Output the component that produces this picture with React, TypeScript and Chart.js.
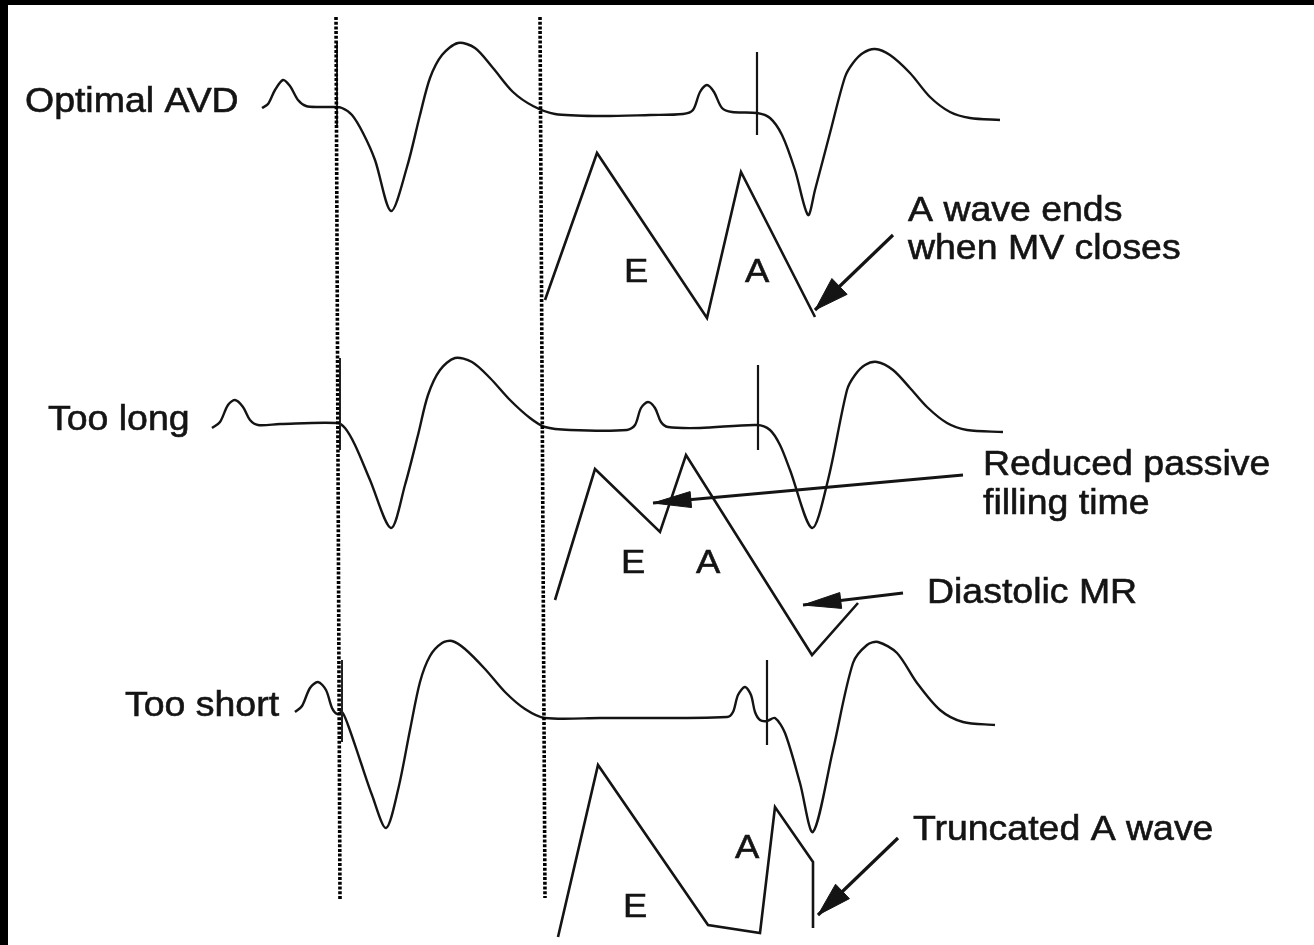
import React, { useEffect, useRef } from "react";
import { Chart, registerables } from "chart.js";
Chart.register(...registerables);

type Pt = [number, number];

// ---- ECG traces (surface ECG), one per AV-delay setting ----
const ecgOptimal: Pt[] = [
  [262, 108], [268, 104], [275, 90], [283, 80], [290, 86], [298, 100], [306, 106], [320, 107], [334, 107],
  [342, 108], [352, 115], [363, 133], [375, 160], [391, 211], [407, 167], [420, 115], [430, 78], [442, 55],
  [458, 43], [475, 48], [493, 68], [513, 92], [533, 106], [555, 114], [600, 116], [650, 115],
  [683, 114], [693, 110], [700, 92], [707, 85], [714, 92], [722, 108], [732, 112], [757, 113],
  [770, 118], [782, 135], [795, 170], [808, 215], [815, 190], [830, 133], [845, 77], [853, 63],
  [863, 53], [875, 49], [890, 55], [910, 73], [930, 97], [950, 112], [970, 118], [1000, 120],
];
const ecgLong: Pt[] = [
  [212, 428], [220, 422], [228, 405], [235, 400], [243, 407], [250, 420], [258, 425], [280, 424], [337, 423],
  [345, 428], [355, 445], [370, 480], [391, 528], [405, 485], [418, 435], [428, 395], [440, 370], [455, 358],
  [472, 362], [490, 378], [510, 400], [530, 418], [545, 427], [570, 430], [627, 430], [635, 425], [641, 408],
  [648, 402], [655, 408], [661, 422], [668, 427], [700, 428], [757, 425], [770, 430], [780, 445], [790, 470],
  [812, 528], [828, 480], [847, 390], [855, 375], [865, 365], [877, 362], [893, 370], [910, 388], [927, 407],
  [947, 423], [967, 430], [1003, 432],
];
const ecgShort: Pt[] = [
  [295, 712], [302, 706], [310, 688], [318, 682], [326, 690], [332, 708], [337, 714], [342, 712],
  [348, 725], [360, 760], [372, 795], [386, 828], [398, 790], [410, 730], [420, 682], [430, 656], [442, 643],
  [452, 641], [465, 649], [485, 669], [505, 692], [525, 709], [545, 718], [600, 718], [727, 717], [733, 712],
  [738, 695], [745, 687], [751, 695], [755, 712], [760, 720], [767, 721], [775, 718], [785, 733], [800, 783],
  [813, 832], [833, 750], [853, 663], [867, 645], [878, 642], [897, 653], [917, 683], [940, 710], [963, 722],
  [995, 725],
];

// ---- Mitral inflow Doppler (E / A waves) ----
const dopOptimal: Pt[] = [[545, 300], [597, 153], [707, 318], [741, 172], [815, 317]];
const dopLong: Pt[] = [[555, 600], [595, 469], [660, 532], [686, 455], [812, 655], [858, 603]];
const dopShort: Pt[] = [[558, 937], [598, 765], [708, 925], [760, 933], [775, 807], [813, 862], [813, 928]];

// ---- Reference markers ----
const dottedLines: Pt[][] = [
  [[336, 17], [340, 900]],
  [[540, 17], [545, 898]],
];
const pacingSpikes: Pt[][] = [
  [[337, 42], [337, 125]],
  [[340, 358], [340, 450]],
  [[342, 660], [342, 742]],
];
const mvClosureTicks: Pt[][] = [
  [[757, 52], [757, 135]],
  [[758, 365], [758, 450]],
  [[767, 660], [767, 745]],
];

// ---- Annotation arrows: [tail, tip] ----
const arrows: Pt[][] = [
  [[893, 235], [815, 310]],
  [[963, 475], [653, 503]],
  [[903, 593], [803, 605]],
  [[898, 838], [818, 915]],
];
const arrowHeads: number[][] = [
  [34, 11],
  [38, 8],
  [38, 8],
  [34, 10],
];

// ---- Text ----
const rowLabels = ["Optimal AVD", "Too long", "Too short"];
const waveLabels = ["E", "A", "E", "A", "E", "A"];
const noteLabels = ["A wave ends", "when MV closes", "Reduced passive", "filling time", "Diastolic MR", "Truncated A wave"];

const rowLabelPos: Pt[] = [[25, 112], [48, 430], [125, 716]];
const waveLabelPos: Pt[] = [[624, 282], [745, 282], [621, 573], [696, 573], [623, 917], [735, 858]];
const notePos: Pt[] = [[908, 221], [908, 259], [983, 475], [983, 514], [927, 603], [913, 840]];

const toXY = (pts: Pt[]) => pts.map(([x, y]) => ({ x, y }));

const INK = "#141414";

function headShape(tail: Pt, tip: Pt, len: number, hw: number): Pt[] {
  const dx = tip[0] - tail[0];
  const dy = tip[1] - tail[1];
  const d = Math.hypot(dx, dy);
  const ux = dx / d, uy = dy / d;
  const bx = tip[0] - ux * len, by = tip[1] - uy * len;
  const nx = -uy, ny = ux;
  return [tip, [bx + nx * hw, by + ny * hw], [bx - nx * hw, by - ny * hw], tip];
}

const textPlugin = {
  id: "diagramText",
  afterDatasetsDraw(chart: any) {
    const { ctx, scales } = chart;
    const xs = scales.x, ys = scales.y;
    const draw = (labels: string[], pos: Pt[], size: number) => {
      labels.forEach((t, i) => {
        const px = xs.getPixelForValue(pos[i][0]);
        const py = ys.getPixelForValue(pos[i][1]);
        ctx.save();
        ctx.translate(px, py);
        ctx.scale(1.07, 1);
        ctx.font = `${size}px "Liberation Sans", Arial, sans-serif`;
        ctx.fillStyle = INK;
        ctx.strokeStyle = INK;
        ctx.lineWidth = 0.6;
        ctx.textBaseline = "alphabetic";
        ctx.textAlign = "left";
        ctx.fillText(t, 0, 0);
        ctx.strokeText(t, 0, 0);
        ctx.restore();
      });
    };
    draw(rowLabels, rowLabelPos, 35);
    draw(waveLabels, waveLabelPos, 34);
    draw(noteLabels, notePos, 35);
  },
};

export default function App() {
  const ref = useRef<HTMLCanvasElement | null>(null);

  useEffect(() => {
    if (!ref.current) return;
    const datasets: any[] = [];
    const line = (pts: Pt[], width: number, extra: any = {}) =>
      datasets.push({
        data: toXY(pts),
        borderColor: INK,
        borderWidth: width,
        pointRadius: 0,
        fill: false,
        tension: 0,
        clip: false,
        ...extra,
      });

    dottedLines.forEach((p) => line(p, 3.6, { borderDash: [3, 1.7], borderColor: "#000" }));
    pacingSpikes.forEach((p) => line(p, 2, { borderColor: "#222" }));
    mvClosureTicks.forEach((p) => line(p, 2.2));
    [ecgOptimal, ecgLong, ecgShort].forEach((p) =>
      line(p, 2.4, { tension: 0.3 })
    );
    [dopOptimal, dopLong, dopShort].forEach((p) => line(p, 2.6, { borderJoinStyle: "miter" }));
    arrows.forEach((a, i) => {
      line(a, 3.2);
      const [len, hw] = arrowHeads[i];
      line(headShape(a[0], a[1], len, hw), 1, {
        fill: "shape",
        backgroundColor: INK,
      });
    });

    const chart = new Chart(ref.current, {
      type: "line",
      data: { datasets },
      options: {
        animation: false,
        responsive: false,
        maintainAspectRatio: false,
        devicePixelRatio: 1,
        events: [],
        layout: { padding: 0 },
        plugins: { legend: { display: false }, tooltip: { enabled: false } },
        scales: {
          x: { type: "linear", min: 8, max: 1314, display: false },
          y: { type: "linear", min: 5, max: 945, reverse: true, display: false },
        },
      },
      plugins: [textPlugin],
    });
    return () => chart.destroy();
  }, []);

  return (
    <div
      style={{
        position: "fixed",
        left: 0,
        top: 0,
        width: 1314,
        height: 945,
        background: "#000",
      }}
    >
      <div
        style={{
          position: "absolute",
          left: 8,
          top: 5,
          width: 1306,
          height: 940,
          background: "#fff",
        }}
      >
        <canvas ref={ref} width={1306} height={940} style={{ display: "block" }} />
      </div>
    </div>
  );
}
